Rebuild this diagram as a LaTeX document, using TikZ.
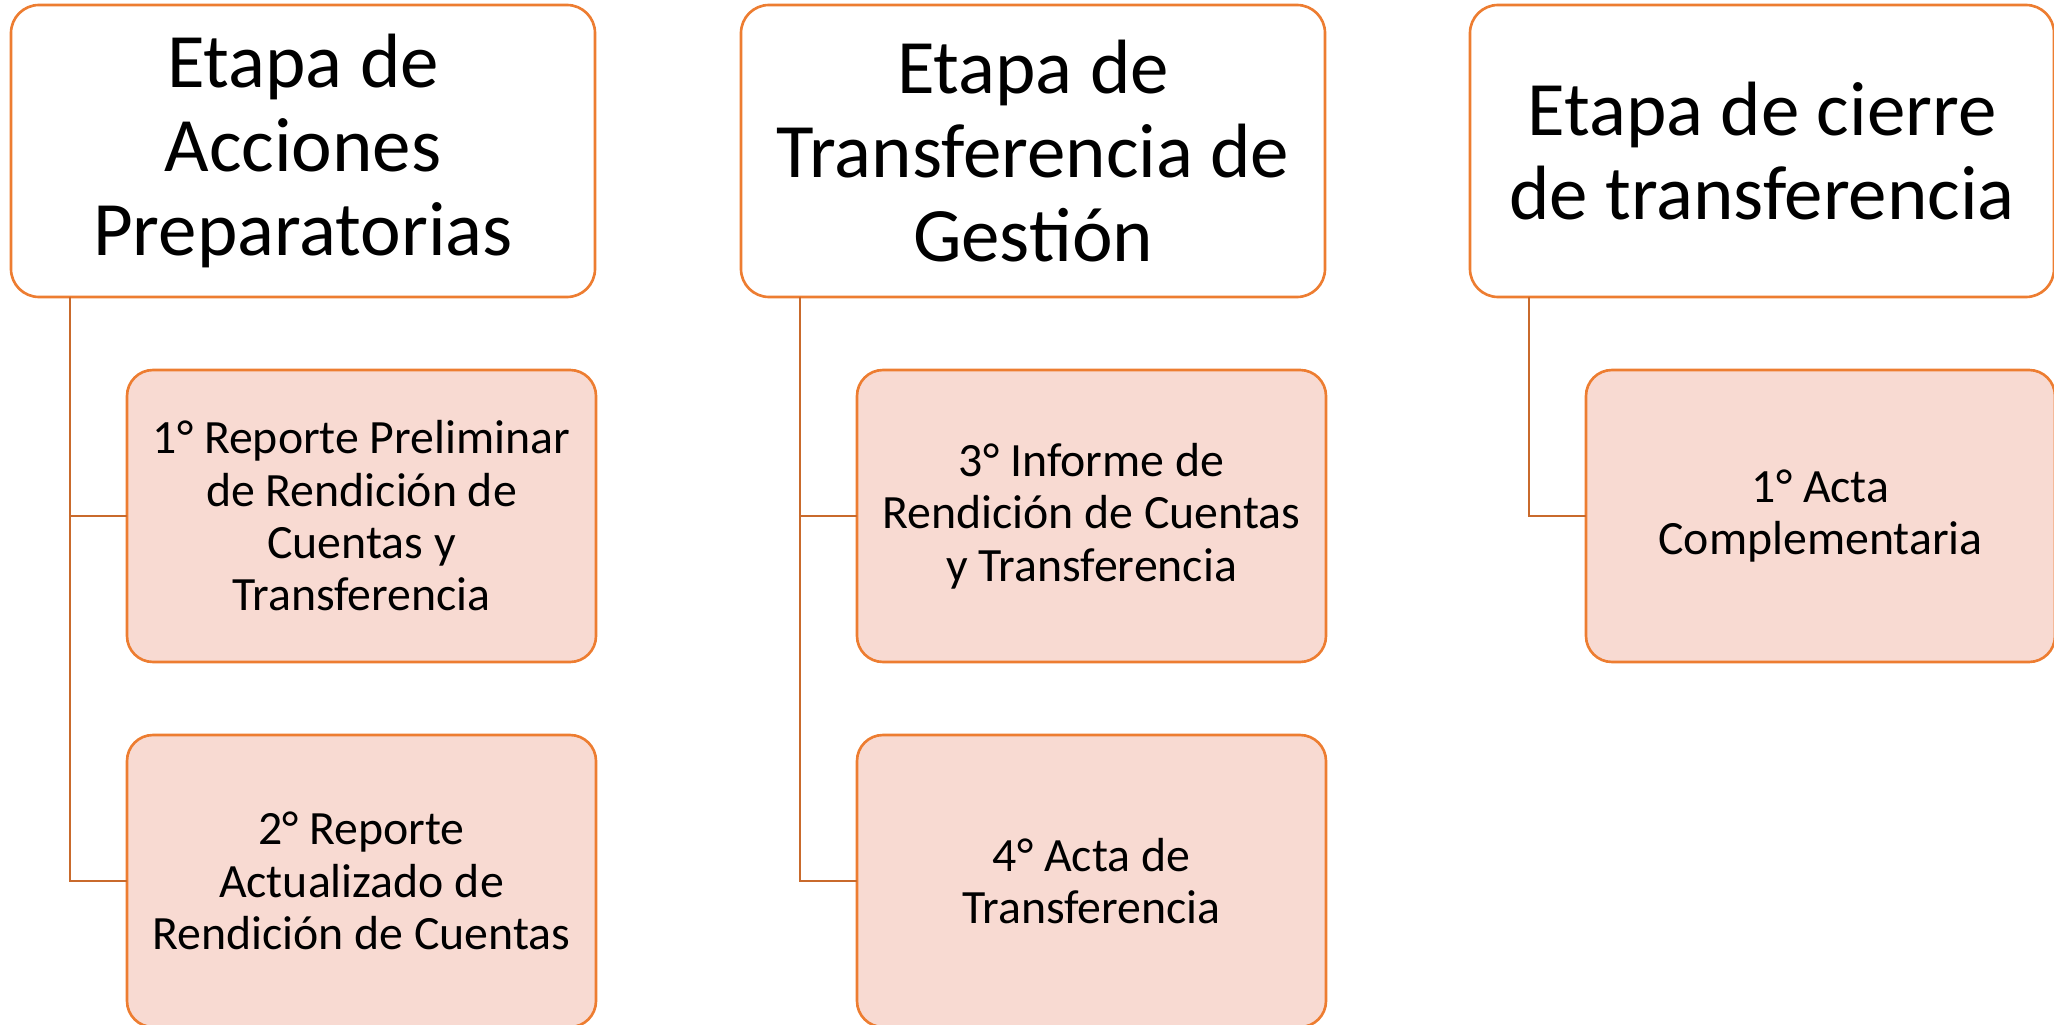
\documentclass[tikz,border=0pt]{standalone}
\usepackage{fontspec}
\setmainfont{Carlito}
\definecolor{etapaborde}{HTML}{ED7D31}
\definecolor{etapalinea}{HTML}{C96A2C}
\definecolor{etapafondo}{HTML}{F8DAD2}
\begin{document}
\begin{tikzpicture}[
    etapa/.style={draw=etapaborde,line width=0.75pt,fill=white,rounded corners=0.28cm,
        minimum width=5.84cm,minimum height=2.92cm,inner sep=0pt,outer sep=0pt,
        align=center,font=\fontsize{21.9}{24}\selectfont},
    doc/.style={draw=etapaborde,line width=0.75pt,fill=etapafondo,rounded corners=0.26cm,
        minimum width=4.69cm,minimum height=2.92cm,inner sep=0pt,outer sep=0pt,
        align=center,font=\fontsize{13.6}{14.9}\selectfont},
    enlace/.style={draw=etapalinea,line width=0.8pt,-}
    ]
        \useasboundingbox (0,0) rectangle (20.54,-10.25);

        \node[etapa] (prep) at (3.03,-1.51) {Etapa de\\Acciones\\Preparatorias};
        \node[etapa] (gest) at (10.33,-1.51) {Etapa de\\Transferencia de\\Gestión};
        \node[etapa] (cier) at (17.62,-1.51) {Etapa de cierre\\de transferencia};

        \node[doc] (rep1) at (3.615,-5.16) {1° Reporte Preliminar\\de Rendición de\\Cuentas y\\Transferencia};
        \node[doc] (rep2) at (3.615,-8.81) {2° Reporte\\Actualizado de\\Rendición de Cuentas};
        \node[doc] (inf3) at (10.915,-5.16) {3° Informe de\\Rendición de Cuentas\\y Transferencia};
        \node[doc] (act4) at (10.915,-8.81) {4° Acta de\\Transferencia};
        \node[doc] (act1) at (18.205,-5.16) {1° Acta\\Complementaria};

        \path[enlace] ([xshift=0.59cm]prep.south west) |- (rep1.west);
        \path[enlace] ([xshift=0.59cm]prep.south west) |- (rep2.west);
        \path[enlace] ([xshift=0.59cm]gest.south west) |- (inf3.west);
        \path[enlace] ([xshift=0.59cm]gest.south west) |- (act4.west);
        \path[enlace] ([xshift=0.59cm]cier.south west) |- (act1.west);
    \end{tikzpicture}
\end{document}
